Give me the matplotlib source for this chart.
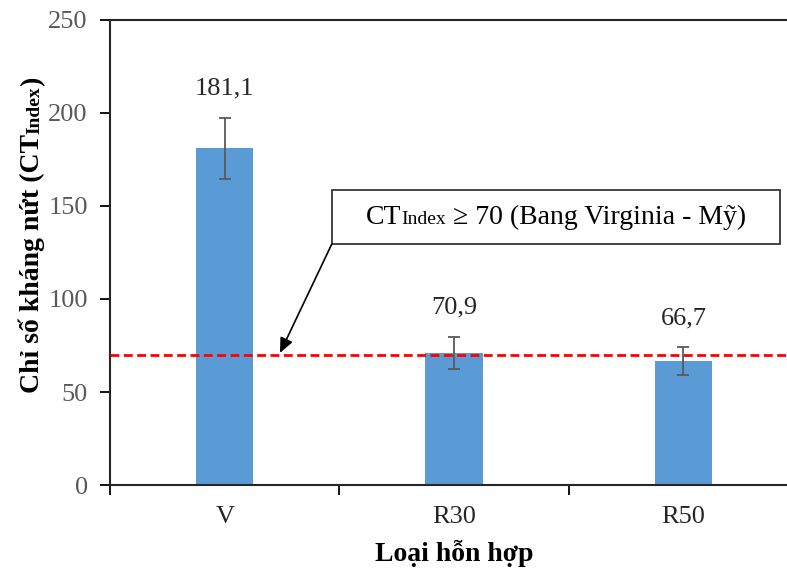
import matplotlib

matplotlib.use("Agg")
import matplotlib.pyplot as plt
from matplotlib.offsetbox import AnnotationBbox, HPacker, TextArea
from matplotlib.patches import Rectangle

# data
categories = ["V", "R30", "R50"]
values = [181.1, 70.9, 66.7]
errors = [16.4, 8.8, 7.3]
value_labels = ["181,1", "70,9", "66,7"]
threshold = 70

BAR_COLOR = "#5b9bd5"
ERR_COLOR = "#595959"
TICK_GREY = "#595959"
SERIF = "Liberation Serif"

plt.rcParams["font.family"] = [SERIF, "DejaVu Serif"]

fig = plt.figure(figsize=(7.87, 5.71), dpi=100)
ax = fig.add_axes([0.1398, 0.1506, 1.0142 - 0.1398, 0.965 - 0.1506])

x = list(range(len(categories)))
ax.bar(x, values, width=0.25, color=BAR_COLOR, zorder=2)
ax.errorbar(x, values, yerr=errors, fmt="none", ecolor=ERR_COLOR,
            elinewidth=1.3, capsize=4.5, capthick=1.3, zorder=3)

for xi, v, e, lab in zip(x, values, errors, value_labels):
    ax.text(xi, v + e + 15.5, lab, ha="center", va="center",
            fontsize=19, color="#262626")

ax.axhline(threshold, color="#ff0000", linestyle=(0, (3.2, 1.6)),
           linewidth=2.0, zorder=4)

ax.set_xlim(-0.5, 2.5)
ax.set_ylim(0, 250)
ax.set_yticks(range(0, 251, 50))
ax.tick_params(axis="y", direction="out", length=7, width=1.3, pad=9,
               labelsize=19, labelcolor=TICK_GREY)
ax.set_xticks([-0.5, 0.5, 1.5, 2.5])
ax.set_xticklabels([])
ax.set_xticks(x, minor=True)
ax.set_xticklabels(categories, minor=True)
ax.tick_params(axis="x", which="major", direction="out", length=7, width=1.3)
ax.tick_params(axis="x", which="minor", length=0, pad=15, labelsize=19,
               labelcolor="#262626")

for side in ("left", "bottom", "top"):
    ax.spines[side].set_linewidth(1.5)
    ax.spines[side].set_color("#262626")
ax.spines["right"].set_visible(False)

ax.set_xlabel("Loại hỗn hợp", fontsize=20, fontweight="bold", labelpad=9)

# y label with the smaller "Index" on the same baseline
YLAB_X = 0.0496
ylab1 = fig.text(YLAB_X, 0.312, "Chỉ số kháng nứt (CT", rotation=90,
                 rotation_mode="anchor", ha="left", va="baseline",
                 fontsize=20, fontweight="bold")
ylab2 = ax.annotate("Index", xy=(YLAB_X, 1.0),
                    xycoords=("figure fraction", ylab1),
                    rotation=90, rotation_mode="anchor", ha="left",
                    va="baseline", fontsize=14, fontweight="bold",
                    annotation_clip=False)
ax.annotate(")", xy=(YLAB_X, 1.0), xycoords=("figure fraction", ylab2),
            rotation=90, rotation_mode="anchor", ha="left", va="baseline",
            fontsize=20, fontweight="bold", annotation_clip=False)

# threshold callout
box_x0, box_y0, box_x1, box_y1 = 0.467, 129.6, 2.419, 158.6
ax.add_patch(Rectangle((box_x0, box_y0), box_x1 - box_x0, box_y1 - box_y0,
                       facecolor="white", edgecolor="#262626",
                       linewidth=1.2, zorder=5))
parts = HPacker(children=[
    TextArea("CT", textprops=dict(fontsize=20, family=SERIF)),
    TextArea("Index", textprops=dict(fontsize=14, family=SERIF)),
    TextArea(" \u2265 70 (Bang Virginia - Mỹ)",
             textprops=dict(fontsize=20, family=[SERIF, "DejaVu Serif"])),
], align="baseline", pad=0, sep=0)
ab = AnnotationBbox(parts, ((box_x0 + box_x1) / 2, (box_y0 + box_y1) / 2),
                    frameon=False, box_alignment=(0.5, 0.5), zorder=6)
ax.add_artist(ab)

ax.annotate("", xy=(0.241, threshold + 1), xytext=(box_x0, box_y0),
            arrowprops=dict(arrowstyle="-|>,head_length=0.9,head_width=0.4",
                            color="black", linewidth=1.2,
                            shrinkA=0, shrinkB=0), zorder=6)

fig.savefig("out.png", dpi=100)
